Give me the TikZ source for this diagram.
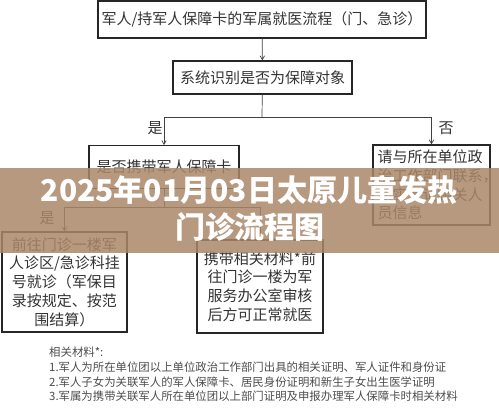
\documentclass[tikz,border=0pt]{standalone}
\usepackage{fontspec}
\setmainfont{Noto Sans CJK SC}
\usepackage{tikz}
\usetikzlibrary{arrows,shapes}
\definecolor{bannerbrown}{RGB}{170,135,105}
\tikzstyle{box}=[draw=black!85,line width=1.3pt,text=black!80,inner sep=2pt,font=\fontsize{15}{18.7}\selectfont]
\tikzstyle{link}=[draw,black!75,line width=0.7pt]
\tikzstyle{tag}=[text=black!80,font=\fontsize{15}{18}\selectfont,inner sep=0pt]
\tikzstyle{note}=[anchor=west,text=black!70,font=\fontsize{11.4}{13}\selectfont,inner sep=0pt]
\tikzstyle{headline}=[text=white,font=\fontsize{30}{36}\selectfont\bfseries,inner sep=0pt]

\begin{document}
\begin{tikzpicture}[x=1pt,y=-1pt,>=angle 60]
    \useasboundingbox (0,0) rectangle (499,414);
    % First we draw the boxes
    \node[box,minimum width=328pt,minimum height=37pt] (start) at (262,19.5)
        {军人/持军人保障卡的军属就医流程（门、急诊）};
    \node[box,minimum width=179pt,minimum height=33pt] (check) at (262.5,77.5)
        {系统识别是否为保障对象};
    \node[box,minimum width=150pt,minimum height=43pt,anchor=north] (card) at (164,145)
        {是否携带军人保障卡};
    \node[box,minimum width=117pt,minimum height=80pt,text width=108pt,align=left] (contact) at (431.5,185)
        {请与所在单位政\\治工作部门联系，\\核实登记相关人\\员信息};
    \node[box,minimum width=125pt,minimum height=100pt,align=center] (clinic) at (64.5,282)
        {前往门诊一楼军\\人诊区/急诊科挂\\号就诊（军保目\\录按规定、按范\\围结算）};
    \node[box,minimum width=126pt,minimum height=93pt,align=center] (office) at (260,286.5)
        {携带相关材料*前\\往门诊一楼为军\\服务办公室审核\\后方可正常就医};
    % Then the splits
    \coordinate (split1) at (262,117);
    \coordinate (split2) at (164,207);
    \path[link,->] (start) -- (check);
    \path[link] (check) -- (split1);
    \path[link] (card) -- (split2);
    \foreach \source/ \dest in {split1/card, split1/contact, split2/clinic, split2/office}
        \path[link,->] (\source) -| (\dest);
    % Labels on the branches
    \node[tag] (yes1) at (155,128) {是};
    \node[tag] (no1) at (446,128) {否};
    \node[tag] (yes2) at (47,218) {是};
    % Notes
    \foreach \y/\txt in {352/相关材料*:,
        367/1.军人为所在单位团以上单位政治工作部门出具的相关证明、军人证件和身份证,
        382/2.军人子女为关联军人的军人保障卡、居民身份证明和新生子女出生医学证明,
        396/3.军属为携带关联军人所在单位团以上部门证明及申报办理军人保障卡时相关材料}
        \node[note] at (49,\y) {\txt};
    % Banner over the chart
    \fill[bannerbrown,opacity=0.85] (0,168) rectangle (499,253);
    \node[headline] (title1) at (249,190) {2025年01月03日太原儿童发热};
    \node[headline] (title2) at (250,227) {门诊流程图};
\end{tikzpicture}
\end{document}
